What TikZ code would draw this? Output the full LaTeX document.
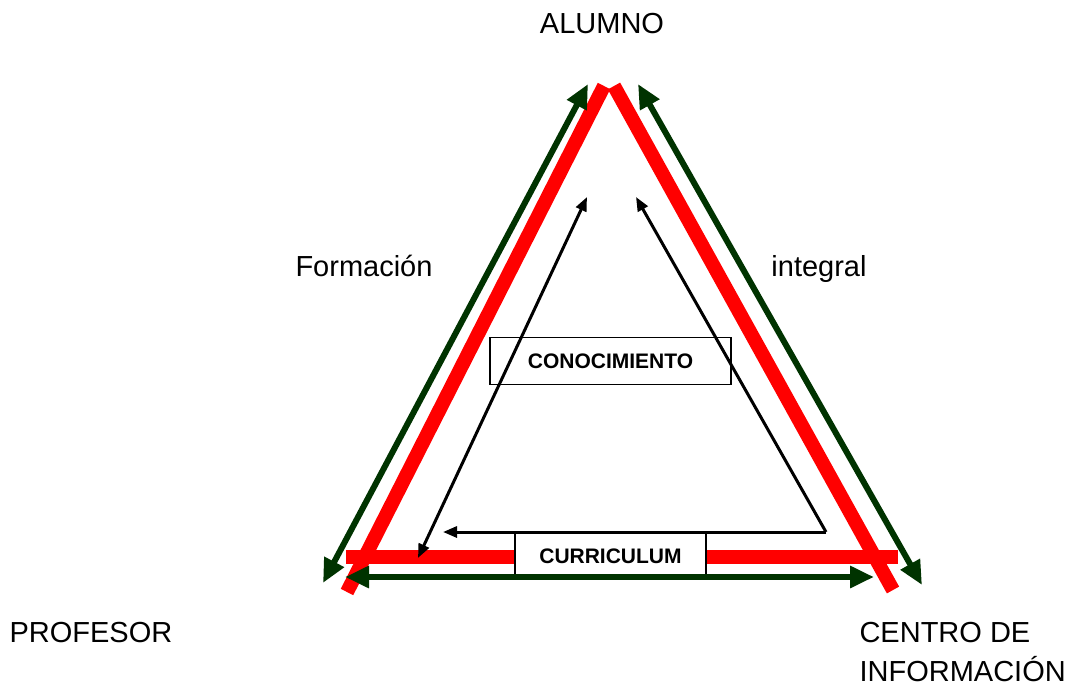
\documentclass[tikz,border=0pt]{standalone}
\usepackage{fontspec}
\setmainfont{Liberation Sans}
\usetikzlibrary{arrows.meta}
\definecolor{rojo}{RGB}{255,0,0}
\definecolor{verde}{RGB}{0,51,0}
\newcommand{\corA}{rojo}
\newcommand{\corB}{verde}
\newcommand{\corC}{black}
\tikzset{
  lado/.style={draw=\corA, line width=14pt},
  flecha/.style={draw=\corB, line width=6pt, {Triangle[length=24pt,width=21pt]}-{Triangle[length=24pt,width=21pt]}},
  flechita/.style={draw=\corC, line width=3pt, -{Triangle[length=14pt,width=11pt]}},
  caja/.style={draw=\corC, line width=1.3pt, minimum width=#1, minimum height=47pt, inner sep=0pt, font=\fontsize{21}{21}\selectfont\bfseries},
  rotulo/.style={font=\fontsize{29}{39}\selectfont}
}
\begin{document}
\begin{tikzpicture}[x=1pt,y=-1pt]
    \useasboundingbox (0,0) rectangle (1090,688);
      % lados rojos
    \draw [lado] (604,86) -- (347,592);
    \draw [lado] (614,86) -- (893,590);
    \draw [lado] (346,557) -- (898,557);
      % caja curriculum
    \node [caja=191pt, fill=white] (curriculum) at (610.5,556) {CURRICULUM};
      % flechas verdes
    \coordinate (vA1) at (588,84);
    \coordinate (vA2) at (323,583);
    \coordinate (vB1) at (638,84);
    \coordinate (vB2) at (922,585);
    \coordinate (vC1) at (345,577);
    \coordinate (vC2) at (874,577);
    \draw [flecha] (vA2) -- (vA1);
    \draw [flecha] (vB2) -- (vB1);
    \draw [flecha] (vC1) -- (vC2);
      % flechas negras
    \coordinate (esquina) at (826,532);
    \coordinate (nA) at (587,197);
    \coordinate (nB) at (636,197);
    \coordinate (nC) at (418,558);
    \coordinate (nD) at (443,532);
    \draw [flechita] (esquina) -- (nD);
    \draw [flechita, line join=miter] (nD -| esquina) -- (esquina) -- (nB);
    \draw [flechita, {Triangle[length=14pt,width=11pt]}-{Triangle[length=14pt,width=11pt]}] (nC) -- (nA);
      % caja conocimiento
    \node [caja=241pt] (conocimiento) at (610.5,361) {CONOCIMIENTO};
      % rotulos
    \node [rotulo] (alumno) at (602,24) {ALUMNO};
    \node [rotulo] (formacion) at (364,266) {Formación};
    \node [rotulo, anchor=base] (integral) at (819,276) {integral};
    \node [rotulo, anchor=west] (profesor) at (6,633) {PROFESOR};
    \node [rotulo, anchor=west, align=left] (centro) at (856,652) {CENTRO DE\\INFORMACIÓN};
\end{tikzpicture}
\end{document}
